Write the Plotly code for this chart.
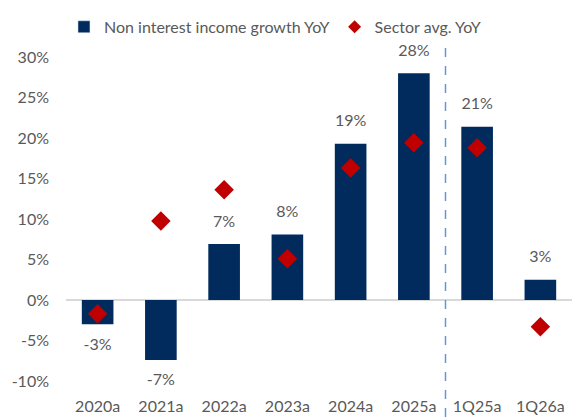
import plotly.graph_objects as go

categories = ["2020a", "2021a", "2022a", "2023a", "2024a", "2025a", "1Q25a", "1Q26a"]
growth = [-3.0, -7.4, 6.9, 8.1, 19.3, 28.0, 21.4, 2.5]
sector = [-1.7, 9.75, 13.6, 5.1, 16.3, 19.4, 18.8, -3.3]
labels = ["-3%", "-7%", "7%", "8%", "19%", "28%", "21%", "3%"]
yticks = [-10, -5, 0, 5, 10, 15, 20, 25, 30]

font = "Lato, 'Noto Sans', sans-serif"
grey = "#595959"
navy = "#002B5C"
red = "#C00000"

fig = go.Figure()
fig.add_trace(go.Bar(
    x=categories, y=growth, name="Non interest income growth YoY",
    marker=dict(color=navy, line=dict(width=0)), showlegend=False,
))
fig.add_trace(go.Scatter(
    x=categories, y=growth, mode="markers+text", text=labels,
    textposition=["top center" if v >= 0 else "bottom center" for v in growth],
    marker=dict(size=20, opacity=0), cliponaxis=False,
    textfont=dict(size=16, color=grey, family=font), showlegend=False, hoverinfo="skip",
))
fig.add_trace(go.Scatter(
    x=categories, y=sector, name="Sector avg. YoY", mode="markers",
    marker=dict(symbol="diamond", size=15, color=red), showlegend=False,
))
# legend entries
fig.add_trace(go.Bar(x=[None], y=[None], name="Non interest income growth YoY",
                     marker=dict(color=navy)))
fig.add_trace(go.Scatter(x=[None], y=[None], name="Sector avg. YoY", mode="markers",
                         marker=dict(symbol="diamond", size=10, color=red)))

fig.add_shape(type="line", xref="x", yref="paper", x0=5.5, x1=5.5,
              y0=-0.111, y1=1.046, line=dict(color="#5B9BD5", width=1.5, dash="dash"))

fig.update_layout(
    width=572, height=417,
    margin=dict(l=66, r=0, t=57, b=36),
    plot_bgcolor="white", paper_bgcolor="white",
    bargap=0.5, barmode="overlay",
    font=dict(family=font, color=grey, size=16),
    showlegend=True,
    legend=dict(orientation="h", x=-0.004, xanchor="left", y=1.093, yanchor="middle",
                font=dict(size=16, color=grey), itemwidth=30, tracegroupgap=0,
                traceorder="normal", bgcolor="rgba(0,0,0,0)"),
    xaxis=dict(type="category", range=[-0.5, 7.5], showline=False, ticks="",
               tickfont=dict(size=16, color=grey), showgrid=False, ticklabelstandoff=14),
    yaxis=dict(range=[-10, 30], tickvals=yticks, ticktext=[f"{v}%" for v in yticks],
               showgrid=False, zeroline=True, zerolinecolor="#D9D9D9", zerolinewidth=1.5,
               tickfont=dict(size=16, color=grey), ticks="", ticklabelstandoff=16),
)

fig.write_html("out.html", config={"displayModeBar": False},
               post_script="document.body.style.margin='0';")
